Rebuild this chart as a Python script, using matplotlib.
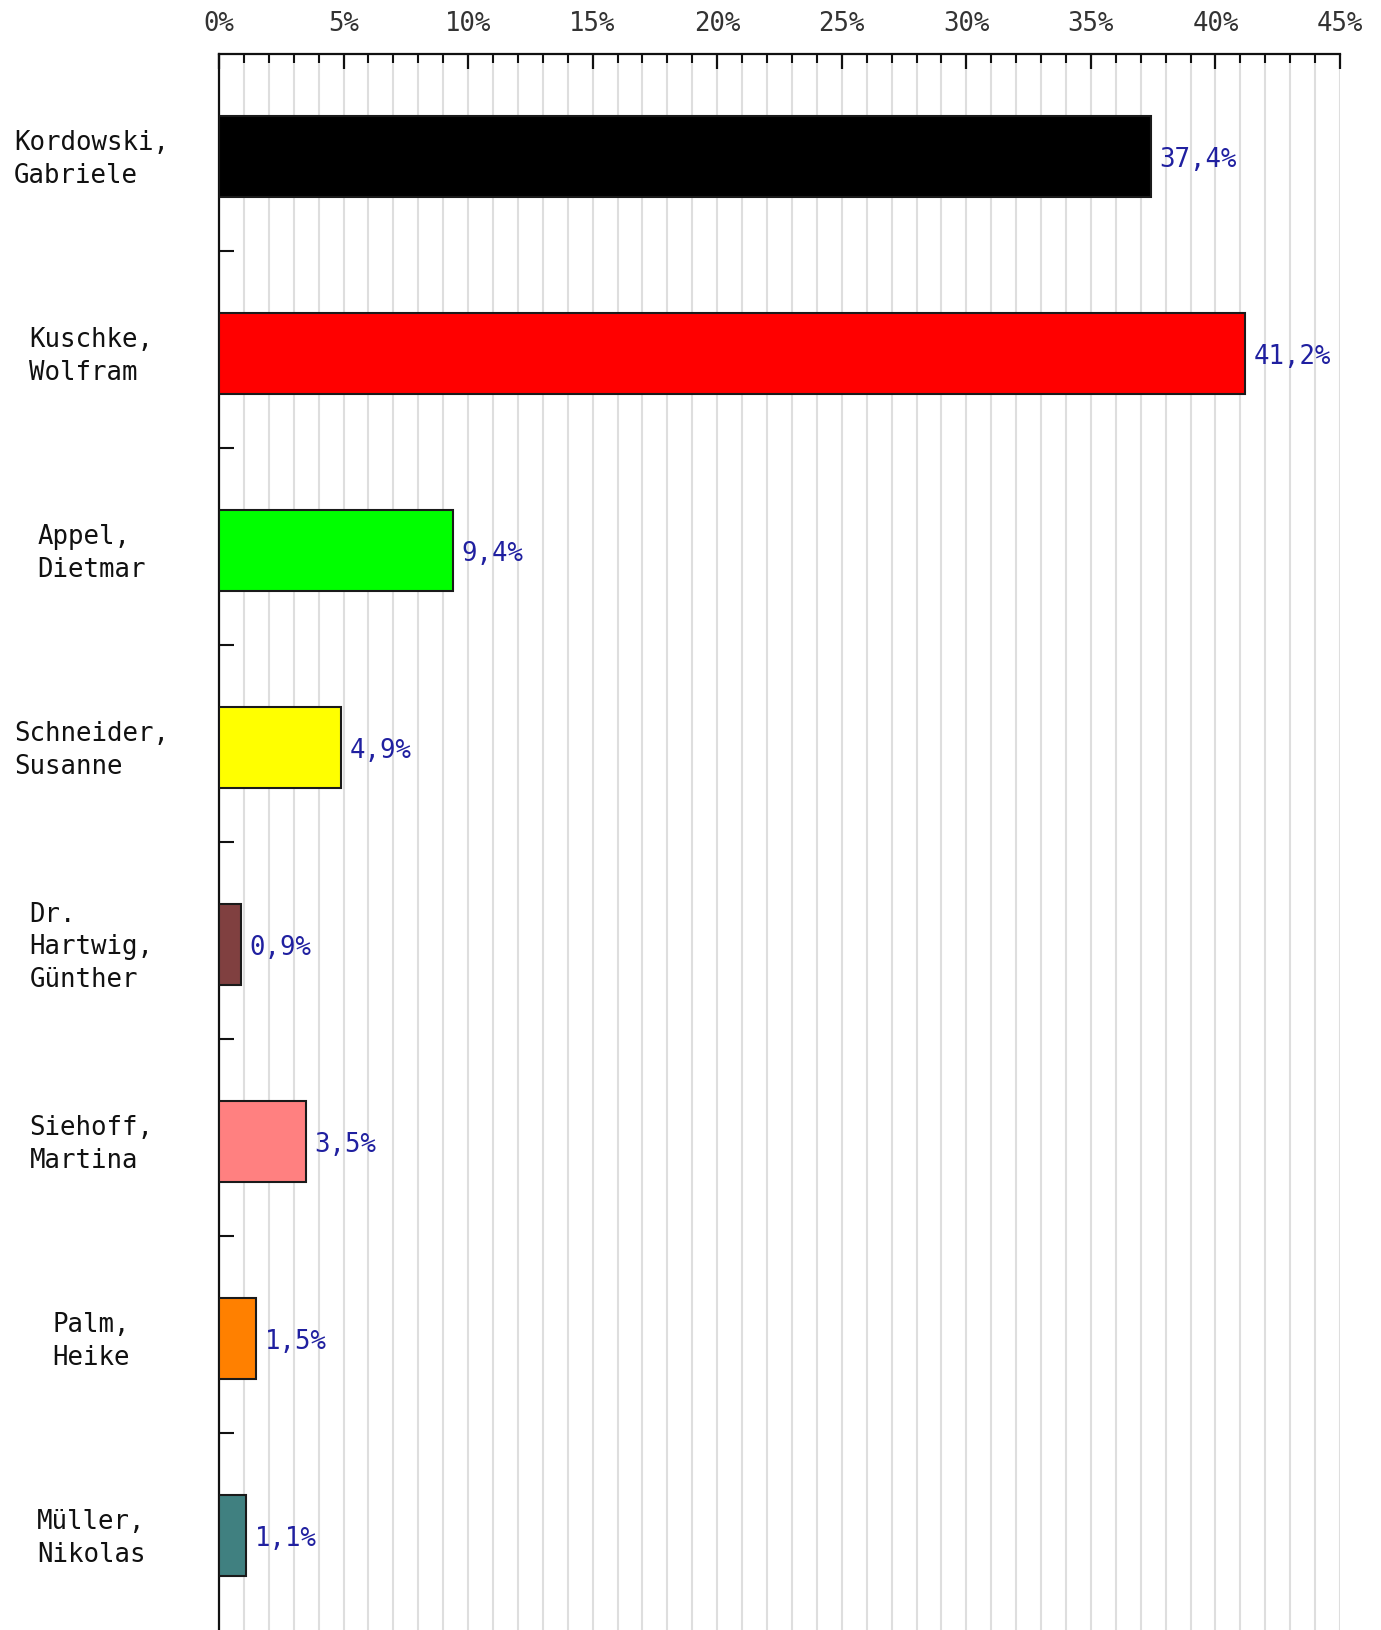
import matplotlib
matplotlib.use("Agg")
import matplotlib.pyplot as plt
from matplotlib.ticker import MultipleLocator, FixedLocator, NullFormatter

categories = ["Kordowski,\nGabriele", "Kuschke,\nWolfram", "Appel,\nDietmar",
              "Schneider,\nSusanne", "Dr.\nHartwig,\nGünther", "Siehoff,\nMartina",
              "Palm,\nHeike", "Müller,\nNikolas"]
values = [37.4, 41.2, 9.4, 4.9, 0.9, 3.5, 1.5, 1.1]
value_labels = ["37,4%", "41,2%", "9,4%", "4,9%", "0,9%", "3,5%", "1,5%", "1,1%"]
colors = ["#000000", "#ff0000", "#00ff00", "#ffff00", "#804040", "#ff8080", "#ff8000", "#408080"]
xticks = [0, 5, 10, 15, 20, 25, 30, 35, 40, 45]
xtick_labels = ["0%", "5%", "10%", "15%", "20%", "25%", "30%", "35%", "40%", "45%"]

W, H = 1381, 1631
fig = plt.figure(figsize=(W / 100, H / 100), dpi=100)
left, right, top = 219, 1340, 55
ax = fig.add_axes([left / W, 0, (right - left) / W, (H - top) / H])

FONT = "DejaVu Sans Mono"
FS = 18.5

n = len(categories)
ypos = [i + 0.52 for i in range(n)]
ax.barh(ypos, values, height=0.415, color=colors, edgecolor="#1a1a1a", linewidth=1.5, zorder=3)

ax.set_xlim(0, 45)
ax.set_ylim(n, 0)

# grid every 1%
ax.xaxis.set_minor_locator(MultipleLocator(1))
ax.set_xticks(xticks)
ax.grid(True, which="both", axis="x", color="#dedede", linewidth=1.5, zorder=0)
ax.set_axisbelow(True)

ax.xaxis.tick_top()
ax.set_xticklabels(xtick_labels, fontfamily=FONT, fontsize=FS, color="#333333")
ax.tick_params(axis="x", which="major", direction="in", length=10.8, width=1.6,
               pad=13, color="#111111", top=True, bottom=False)
ax.tick_params(axis="x", which="minor", direction="in", length=6.5, width=1.5,
               color="#111111", top=True, bottom=False)

ax.yaxis.set_major_locator(FixedLocator(list(range(1, n))))
ax.yaxis.set_major_formatter(NullFormatter())
ax.tick_params(axis="y", which="major", direction="in", length=10.8, width=1.5, color="#111111")

for s in ["right", "bottom"]:
    ax.spines[s].set_visible(False)
for s in ["left", "top"]:
    ax.spines[s].set_linewidth(1.6)
    ax.spines[s].set_color("#111111")

# category labels
lx = (91.5 - left) / (right - left)
for y, lab in zip(ypos, categories):
    ax.text(lx, y + 0.01, lab, transform=ax.get_yaxis_transform(), ha="center", va="center",
            multialignment="left", fontfamily=FONT, fontsize=FS, color="#111111",
            linespacing=1.32, clip_on=False)

# value labels
for y, v, lab in zip(ypos, values, value_labels):
    ax.annotate(lab, xy=(v, y), xytext=(6, 0), textcoords="offset points",
                ha="left", va="center_baseline", fontfamily=FONT, fontsize=FS, color="#2020a0",
                annotation_clip=False)

fig.savefig("out.png", dpi=100, facecolor="white")
